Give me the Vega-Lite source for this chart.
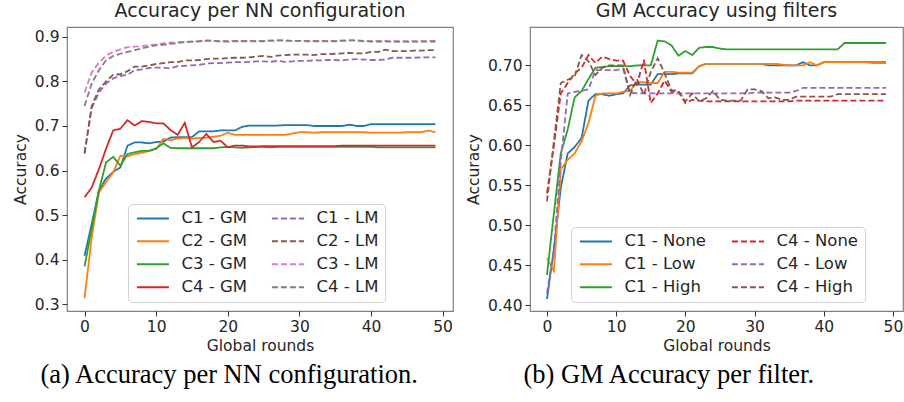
{
"$schema": "https://vega.github.io/schema/vega-lite/v6.json",
"padding": {"left": 12, "top": 1, "right": 0, "bottom": 0},
"background": "white",
"datasets": {
"a": [
{"s":"C1 - GM","r":0,"v":0.409},{"s":"C1 - GM","r":1,"v":0.48},{"s":"C1 - GM","r":2,"v":0.555},{"s":"C1 - GM","r":3,"v":0.582},{"s":"C1 - GM","r":4,"v":0.597},{"s":"C1 - GM","r":5,"v":0.607},{"s":"C1 - GM","r":6,"v":0.656},{"s":"C1 - GM","r":7,"v":0.663},{"s":"C1 - GM","r":8,"v":0.663},{"s":"C1 - GM","r":9,"v":0.661},
{"s":"C1 - GM","r":10,"v":0.664},{"s":"C1 - GM","r":11,"v":0.665},{"s":"C1 - GM","r":12,"v":0.674},{"s":"C1 - GM","r":13,"v":0.675},{"s":"C1 - GM","r":14,"v":0.675},{"s":"C1 - GM","r":15,"v":0.675},{"s":"C1 - GM","r":16,"v":0.688},{"s":"C1 - GM","r":17,"v":0.688},{"s":"C1 - GM","r":18,"v":0.688},{"s":"C1 - GM","r":19,"v":0.69},
{"s":"C1 - GM","r":20,"v":0.69},{"s":"C1 - GM","r":21,"v":0.69},{"s":"C1 - GM","r":22,"v":0.698},{"s":"C1 - GM","r":23,"v":0.701},{"s":"C1 - GM","r":24,"v":0.701},{"s":"C1 - GM","r":25,"v":0.701},{"s":"C1 - GM","r":26,"v":0.701},{"s":"C1 - GM","r":27,"v":0.701},{"s":"C1 - GM","r":28,"v":0.702},{"s":"C1 - GM","r":29,"v":0.702},
{"s":"C1 - GM","r":30,"v":0.702},{"s":"C1 - GM","r":31,"v":0.702},{"s":"C1 - GM","r":32,"v":0.7},{"s":"C1 - GM","r":33,"v":0.7},{"s":"C1 - GM","r":34,"v":0.7},{"s":"C1 - GM","r":35,"v":0.7},{"s":"C1 - GM","r":36,"v":0.7},{"s":"C1 - GM","r":37,"v":0.703},{"s":"C1 - GM","r":38,"v":0.7},{"s":"C1 - GM","r":39,"v":0.7},
{"s":"C1 - GM","r":40,"v":0.704},{"s":"C1 - GM","r":41,"v":0.704},{"s":"C1 - GM","r":42,"v":0.704},{"s":"C1 - GM","r":43,"v":0.704},{"s":"C1 - GM","r":44,"v":0.704},{"s":"C1 - GM","r":45,"v":0.704},{"s":"C1 - GM","r":46,"v":0.704},{"s":"C1 - GM","r":47,"v":0.704},{"s":"C1 - GM","r":48,"v":0.704},{"s":"C1 - GM","r":49,"v":0.704},
{"s":"C2 - GM","r":0,"v":0.314},{"s":"C2 - GM","r":1,"v":0.45},{"s":"C2 - GM","r":2,"v":0.55},{"s":"C2 - GM","r":3,"v":0.575},{"s":"C2 - GM","r":4,"v":0.596},{"s":"C2 - GM","r":5,"v":0.633},{"s":"C2 - GM","r":6,"v":0.632},{"s":"C2 - GM","r":7,"v":0.637},{"s":"C2 - GM","r":8,"v":0.64},{"s":"C2 - GM","r":9,"v":0.644},
{"s":"C2 - GM","r":10,"v":0.648},{"s":"C2 - GM","r":11,"v":0.671},{"s":"C2 - GM","r":12,"v":0.668},{"s":"C2 - GM","r":13,"v":0.672},{"s":"C2 - GM","r":14,"v":0.673},{"s":"C2 - GM","r":15,"v":0.672},{"s":"C2 - GM","r":16,"v":0.673},{"s":"C2 - GM","r":17,"v":0.674},{"s":"C2 - GM","r":18,"v":0.676},{"s":"C2 - GM","r":19,"v":0.678},
{"s":"C2 - GM","r":20,"v":0.685},{"s":"C2 - GM","r":21,"v":0.68},{"s":"C2 - GM","r":22,"v":0.68},{"s":"C2 - GM","r":23,"v":0.68},{"s":"C2 - GM","r":24,"v":0.68},{"s":"C2 - GM","r":25,"v":0.68},{"s":"C2 - GM","r":26,"v":0.68},{"s":"C2 - GM","r":27,"v":0.68},{"s":"C2 - GM","r":28,"v":0.68},{"s":"C2 - GM","r":29,"v":0.683},
{"s":"C2 - GM","r":30,"v":0.686},{"s":"C2 - GM","r":31,"v":0.686},{"s":"C2 - GM","r":32,"v":0.685},{"s":"C2 - GM","r":33,"v":0.686},{"s":"C2 - GM","r":34,"v":0.686},{"s":"C2 - GM","r":35,"v":0.686},{"s":"C2 - GM","r":36,"v":0.686},{"s":"C2 - GM","r":37,"v":0.686},{"s":"C2 - GM","r":38,"v":0.686},{"s":"C2 - GM","r":39,"v":0.686},
{"s":"C2 - GM","r":40,"v":0.685},{"s":"C2 - GM","r":41,"v":0.685},{"s":"C2 - GM","r":42,"v":0.685},{"s":"C2 - GM","r":43,"v":0.685},{"s":"C2 - GM","r":44,"v":0.685},{"s":"C2 - GM","r":45,"v":0.686},{"s":"C2 - GM","r":46,"v":0.686},{"s":"C2 - GM","r":47,"v":0.686},{"s":"C2 - GM","r":48,"v":0.69},{"s":"C2 - GM","r":49,"v":0.686},
{"s":"C3 - GM","r":0,"v":0.385},{"s":"C3 - GM","r":1,"v":0.47},{"s":"C3 - GM","r":2,"v":0.555},{"s":"C3 - GM","r":3,"v":0.618},{"s":"C3 - GM","r":4,"v":0.631},{"s":"C3 - GM","r":5,"v":0.611},{"s":"C3 - GM","r":6,"v":0.637},{"s":"C3 - GM","r":7,"v":0.641},{"s":"C3 - GM","r":8,"v":0.644},{"s":"C3 - GM","r":9,"v":0.644},
{"s":"C3 - GM","r":10,"v":0.65},{"s":"C3 - GM","r":11,"v":0.661},{"s":"C3 - GM","r":12,"v":0.651},{"s":"C3 - GM","r":13,"v":0.65},{"s":"C3 - GM","r":14,"v":0.65},{"s":"C3 - GM","r":15,"v":0.65},{"s":"C3 - GM","r":16,"v":0.65},{"s":"C3 - GM","r":17,"v":0.65},{"s":"C3 - GM","r":18,"v":0.65},{"s":"C3 - GM","r":19,"v":0.652},
{"s":"C3 - GM","r":20,"v":0.653},{"s":"C3 - GM","r":21,"v":0.652},{"s":"C3 - GM","r":22,"v":0.651},{"s":"C3 - GM","r":23,"v":0.652},{"s":"C3 - GM","r":24,"v":0.653},{"s":"C3 - GM","r":25,"v":0.653},{"s":"C3 - GM","r":26,"v":0.652},{"s":"C3 - GM","r":27,"v":0.653},{"s":"C3 - GM","r":28,"v":0.653},{"s":"C3 - GM","r":29,"v":0.653},
{"s":"C3 - GM","r":30,"v":0.653},{"s":"C3 - GM","r":31,"v":0.653},{"s":"C3 - GM","r":32,"v":0.653},{"s":"C3 - GM","r":33,"v":0.653},{"s":"C3 - GM","r":34,"v":0.653},{"s":"C3 - GM","r":35,"v":0.653},{"s":"C3 - GM","r":36,"v":0.653},{"s":"C3 - GM","r":37,"v":0.653},{"s":"C3 - GM","r":38,"v":0.653},{"s":"C3 - GM","r":39,"v":0.653},
{"s":"C3 - GM","r":40,"v":0.653},{"s":"C3 - GM","r":41,"v":0.652},{"s":"C3 - GM","r":42,"v":0.652},{"s":"C3 - GM","r":43,"v":0.652},{"s":"C3 - GM","r":44,"v":0.652},{"s":"C3 - GM","r":45,"v":0.652},{"s":"C3 - GM","r":46,"v":0.652},{"s":"C3 - GM","r":47,"v":0.652},{"s":"C3 - GM","r":48,"v":0.652},{"s":"C3 - GM","r":49,"v":0.652},
{"s":"C4 - GM","r":0,"v":0.54},{"s":"C4 - GM","r":1,"v":0.562},{"s":"C4 - GM","r":2,"v":0.603},{"s":"C4 - GM","r":3,"v":0.649},{"s":"C4 - GM","r":4,"v":0.69},{"s":"C4 - GM","r":5,"v":0.694},{"s":"C4 - GM","r":6,"v":0.713},{"s":"C4 - GM","r":7,"v":0.701},{"s":"C4 - GM","r":8,"v":0.711},{"s":"C4 - GM","r":9,"v":0.709},
{"s":"C4 - GM","r":10,"v":0.706},{"s":"C4 - GM","r":11,"v":0.706},{"s":"C4 - GM","r":12,"v":0.691},{"s":"C4 - GM","r":13,"v":0.68},{"s":"C4 - GM","r":14,"v":0.707},{"s":"C4 - GM","r":15,"v":0.652},{"s":"C4 - GM","r":16,"v":0.664},{"s":"C4 - GM","r":17,"v":0.682},{"s":"C4 - GM","r":18,"v":0.664},{"s":"C4 - GM","r":19,"v":0.667},
{"s":"C4 - GM","r":20,"v":0.652},{"s":"C4 - GM","r":21,"v":0.656},{"s":"C4 - GM","r":22,"v":0.656},{"s":"C4 - GM","r":23,"v":0.654},{"s":"C4 - GM","r":24,"v":0.654},{"s":"C4 - GM","r":25,"v":0.655},{"s":"C4 - GM","r":26,"v":0.655},{"s":"C4 - GM","r":27,"v":0.655},{"s":"C4 - GM","r":28,"v":0.655},{"s":"C4 - GM","r":29,"v":0.655},
{"s":"C4 - GM","r":30,"v":0.655},{"s":"C4 - GM","r":31,"v":0.655},{"s":"C4 - GM","r":32,"v":0.655},{"s":"C4 - GM","r":33,"v":0.655},{"s":"C4 - GM","r":34,"v":0.655},{"s":"C4 - GM","r":35,"v":0.655},{"s":"C4 - GM","r":36,"v":0.656},{"s":"C4 - GM","r":37,"v":0.656},{"s":"C4 - GM","r":38,"v":0.656},{"s":"C4 - GM","r":39,"v":0.656},
{"s":"C4 - GM","r":40,"v":0.656},{"s":"C4 - GM","r":41,"v":0.656},{"s":"C4 - GM","r":42,"v":0.656},{"s":"C4 - GM","r":43,"v":0.656},{"s":"C4 - GM","r":44,"v":0.656},{"s":"C4 - GM","r":45,"v":0.656},{"s":"C4 - GM","r":46,"v":0.656},{"s":"C4 - GM","r":47,"v":0.656},{"s":"C4 - GM","r":48,"v":0.656},{"s":"C4 - GM","r":49,"v":0.656},
{"s":"C1 - LM","r":0,"v":0.64},{"s":"C1 - LM","r":1,"v":0.74},{"s":"C1 - LM","r":2,"v":0.775},{"s":"C1 - LM","r":3,"v":0.795},{"s":"C1 - LM","r":4,"v":0.807},{"s":"C1 - LM","r":5,"v":0.812},{"s":"C1 - LM","r":6,"v":0.815},{"s":"C1 - LM","r":7,"v":0.825},{"s":"C1 - LM","r":8,"v":0.827},{"s":"C1 - LM","r":9,"v":0.83},
{"s":"C1 - LM","r":10,"v":0.831},{"s":"C1 - LM","r":11,"v":0.831},{"s":"C1 - LM","r":12,"v":0.829},{"s":"C1 - LM","r":13,"v":0.834},{"s":"C1 - LM","r":14,"v":0.835},{"s":"C1 - LM","r":15,"v":0.836},{"s":"C1 - LM","r":16,"v":0.837},{"s":"C1 - LM","r":17,"v":0.84},{"s":"C1 - LM","r":18,"v":0.841},{"s":"C1 - LM","r":19,"v":0.841},
{"s":"C1 - LM","r":20,"v":0.842},{"s":"C1 - LM","r":21,"v":0.843},{"s":"C1 - LM","r":22,"v":0.843},{"s":"C1 - LM","r":23,"v":0.844},{"s":"C1 - LM","r":24,"v":0.845},{"s":"C1 - LM","r":25,"v":0.845},{"s":"C1 - LM","r":26,"v":0.844},{"s":"C1 - LM","r":27,"v":0.846},{"s":"C1 - LM","r":28,"v":0.844},{"s":"C1 - LM","r":29,"v":0.845},
{"s":"C1 - LM","r":30,"v":0.846},{"s":"C1 - LM","r":31,"v":0.846},{"s":"C1 - LM","r":32,"v":0.847},{"s":"C1 - LM","r":33,"v":0.847},{"s":"C1 - LM","r":34,"v":0.848},{"s":"C1 - LM","r":35,"v":0.848},{"s":"C1 - LM","r":36,"v":0.847},{"s":"C1 - LM","r":37,"v":0.849},{"s":"C1 - LM","r":38,"v":0.85},{"s":"C1 - LM","r":39,"v":0.849},
{"s":"C1 - LM","r":40,"v":0.848},{"s":"C1 - LM","r":41,"v":0.848},{"s":"C1 - LM","r":42,"v":0.849},{"s":"C1 - LM","r":43,"v":0.853},{"s":"C1 - LM","r":44,"v":0.853},{"s":"C1 - LM","r":45,"v":0.853},{"s":"C1 - LM","r":46,"v":0.853},{"s":"C1 - LM","r":47,"v":0.854},{"s":"C1 - LM","r":48,"v":0.854},{"s":"C1 - LM","r":49,"v":0.854},
{"s":"C2 - LM","r":0,"v":0.638},{"s":"C2 - LM","r":1,"v":0.745},{"s":"C2 - LM","r":2,"v":0.782},{"s":"C2 - LM","r":3,"v":0.8},{"s":"C2 - LM","r":4,"v":0.815},{"s":"C2 - LM","r":5,"v":0.816},{"s":"C2 - LM","r":6,"v":0.823},{"s":"C2 - LM","r":7,"v":0.833},{"s":"C2 - LM","r":8,"v":0.833},{"s":"C2 - LM","r":9,"v":0.836},
{"s":"C2 - LM","r":10,"v":0.839},{"s":"C2 - LM","r":11,"v":0.841},{"s":"C2 - LM","r":12,"v":0.843},{"s":"C2 - LM","r":13,"v":0.843},{"s":"C2 - LM","r":14,"v":0.847},{"s":"C2 - LM","r":15,"v":0.847},{"s":"C2 - LM","r":16,"v":0.848},{"s":"C2 - LM","r":17,"v":0.85},{"s":"C2 - LM","r":18,"v":0.851},{"s":"C2 - LM","r":19,"v":0.851},
{"s":"C2 - LM","r":20,"v":0.852},{"s":"C2 - LM","r":21,"v":0.853},{"s":"C2 - LM","r":22,"v":0.853},{"s":"C2 - LM","r":23,"v":0.854},{"s":"C2 - LM","r":24,"v":0.856},{"s":"C2 - LM","r":25,"v":0.857},{"s":"C2 - LM","r":26,"v":0.855},{"s":"C2 - LM","r":27,"v":0.858},{"s":"C2 - LM","r":28,"v":0.859},{"s":"C2 - LM","r":29,"v":0.86},
{"s":"C2 - LM","r":30,"v":0.86},{"s":"C2 - LM","r":31,"v":0.86},{"s":"C2 - LM","r":32,"v":0.859},{"s":"C2 - LM","r":33,"v":0.861},{"s":"C2 - LM","r":34,"v":0.861},{"s":"C2 - LM","r":35,"v":0.862},{"s":"C2 - LM","r":36,"v":0.863},{"s":"C2 - LM","r":37,"v":0.864},{"s":"C2 - LM","r":38,"v":0.863},{"s":"C2 - LM","r":39,"v":0.863},
{"s":"C2 - LM","r":40,"v":0.866},{"s":"C2 - LM","r":41,"v":0.866},{"s":"C2 - LM","r":42,"v":0.871},{"s":"C2 - LM","r":43,"v":0.868},{"s":"C2 - LM","r":44,"v":0.868},{"s":"C2 - LM","r":45,"v":0.868},{"s":"C2 - LM","r":46,"v":0.869},{"s":"C2 - LM","r":47,"v":0.869},{"s":"C2 - LM","r":48,"v":0.87},{"s":"C2 - LM","r":49,"v":0.87},
{"s":"C3 - LM","r":0,"v":0.775},{"s":"C3 - LM","r":1,"v":0.82},{"s":"C3 - LM","r":2,"v":0.842},{"s":"C3 - LM","r":3,"v":0.858},{"s":"C3 - LM","r":4,"v":0.866},{"s":"C3 - LM","r":5,"v":0.872},{"s":"C3 - LM","r":6,"v":0.877},{"s":"C3 - LM","r":7,"v":0.878},{"s":"C3 - LM","r":8,"v":0.879},{"s":"C3 - LM","r":9,"v":0.881},
{"s":"C3 - LM","r":10,"v":0.883},{"s":"C3 - LM","r":11,"v":0.885},{"s":"C3 - LM","r":12,"v":0.887},{"s":"C3 - LM","r":13,"v":0.888},{"s":"C3 - LM","r":14,"v":0.889},{"s":"C3 - LM","r":15,"v":0.889},{"s":"C3 - LM","r":16,"v":0.89},{"s":"C3 - LM","r":17,"v":0.891},{"s":"C3 - LM","r":18,"v":0.891},{"s":"C3 - LM","r":19,"v":0.891},
{"s":"C3 - LM","r":20,"v":0.891},{"s":"C3 - LM","r":21,"v":0.891},{"s":"C3 - LM","r":22,"v":0.891},{"s":"C3 - LM","r":23,"v":0.891},{"s":"C3 - LM","r":24,"v":0.891},{"s":"C3 - LM","r":25,"v":0.891},{"s":"C3 - LM","r":26,"v":0.892},{"s":"C3 - LM","r":27,"v":0.892},{"s":"C3 - LM","r":28,"v":0.891},{"s":"C3 - LM","r":29,"v":0.891},
{"s":"C3 - LM","r":30,"v":0.891},{"s":"C3 - LM","r":31,"v":0.891},{"s":"C3 - LM","r":32,"v":0.891},{"s":"C3 - LM","r":33,"v":0.891},{"s":"C3 - LM","r":34,"v":0.891},{"s":"C3 - LM","r":35,"v":0.891},{"s":"C3 - LM","r":36,"v":0.892},{"s":"C3 - LM","r":37,"v":0.892},{"s":"C3 - LM","r":38,"v":0.892},{"s":"C3 - LM","r":39,"v":0.891},
{"s":"C3 - LM","r":40,"v":0.891},{"s":"C3 - LM","r":41,"v":0.891},{"s":"C3 - LM","r":42,"v":0.891},{"s":"C3 - LM","r":43,"v":0.89},{"s":"C3 - LM","r":44,"v":0.89},{"s":"C3 - LM","r":45,"v":0.89},{"s":"C3 - LM","r":46,"v":0.89},{"s":"C3 - LM","r":47,"v":0.89},{"s":"C3 - LM","r":48,"v":0.891},{"s":"C3 - LM","r":49,"v":0.891},
{"s":"C4 - LM","r":0,"v":0.745},{"s":"C4 - LM","r":1,"v":0.795},{"s":"C4 - LM","r":2,"v":0.825},{"s":"C4 - LM","r":3,"v":0.847},{"s":"C4 - LM","r":4,"v":0.857},{"s":"C4 - LM","r":5,"v":0.862},{"s":"C4 - LM","r":6,"v":0.866},{"s":"C4 - LM","r":7,"v":0.87},{"s":"C4 - LM","r":8,"v":0.874},{"s":"C4 - LM","r":9,"v":0.878},
{"s":"C4 - LM","r":10,"v":0.881},{"s":"C4 - LM","r":11,"v":0.882},{"s":"C4 - LM","r":12,"v":0.884},{"s":"C4 - LM","r":13,"v":0.886},{"s":"C4 - LM","r":14,"v":0.888},{"s":"C4 - LM","r":15,"v":0.889},{"s":"C4 - LM","r":16,"v":0.89},{"s":"C4 - LM","r":17,"v":0.892},{"s":"C4 - LM","r":18,"v":0.891},{"s":"C4 - LM","r":19,"v":0.889},
{"s":"C4 - LM","r":20,"v":0.889},{"s":"C4 - LM","r":21,"v":0.89},{"s":"C4 - LM","r":22,"v":0.89},{"s":"C4 - LM","r":23,"v":0.89},{"s":"C4 - LM","r":24,"v":0.89},{"s":"C4 - LM","r":25,"v":0.89},{"s":"C4 - LM","r":26,"v":0.891},{"s":"C4 - LM","r":27,"v":0.892},{"s":"C4 - LM","r":28,"v":0.892},{"s":"C4 - LM","r":29,"v":0.891},
{"s":"C4 - LM","r":30,"v":0.891},{"s":"C4 - LM","r":31,"v":0.89},{"s":"C4 - LM","r":32,"v":0.89},{"s":"C4 - LM","r":33,"v":0.89},{"s":"C4 - LM","r":34,"v":0.89},{"s":"C4 - LM","r":35,"v":0.89},{"s":"C4 - LM","r":36,"v":0.891},{"s":"C4 - LM","r":37,"v":0.892},{"s":"C4 - LM","r":38,"v":0.892},{"s":"C4 - LM","r":39,"v":0.89},
{"s":"C4 - LM","r":40,"v":0.889},{"s":"C4 - LM","r":41,"v":0.889},{"s":"C4 - LM","r":42,"v":0.889},{"s":"C4 - LM","r":43,"v":0.889},{"s":"C4 - LM","r":44,"v":0.889},{"s":"C4 - LM","r":45,"v":0.889},{"s":"C4 - LM","r":46,"v":0.889},{"s":"C4 - LM","r":47,"v":0.889},{"s":"C4 - LM","r":48,"v":0.889},{"s":"C4 - LM","r":49,"v":0.889}
],
"b": [
{"s":"C1 - None","r":0,"v":0.408},{"s":"C1 - None","r":1,"v":0.47},{"s":"C1 - None","r":2,"v":0.547},{"s":"C1 - None","r":3,"v":0.59},{"s":"C1 - None","r":4,"v":0.598},{"s":"C1 - None","r":5,"v":0.609},{"s":"C1 - None","r":6,"v":0.656},{"s":"C1 - None","r":7,"v":0.664},{"s":"C1 - None","r":8,"v":0.664},{"s":"C1 - None","r":9,"v":0.662},
{"s":"C1 - None","r":10,"v":0.664},{"s":"C1 - None","r":11,"v":0.665},{"s":"C1 - None","r":12,"v":0.675},{"s":"C1 - None","r":13,"v":0.676},{"s":"C1 - None","r":14,"v":0.676},{"s":"C1 - None","r":15,"v":0.676},{"s":"C1 - None","r":16,"v":0.689},{"s":"C1 - None","r":17,"v":0.689},{"s":"C1 - None","r":18,"v":0.689},{"s":"C1 - None","r":19,"v":0.69},
{"s":"C1 - None","r":20,"v":0.69},{"s":"C1 - None","r":21,"v":0.69},{"s":"C1 - None","r":22,"v":0.699},{"s":"C1 - None","r":23,"v":0.702},{"s":"C1 - None","r":24,"v":0.702},{"s":"C1 - None","r":25,"v":0.702},{"s":"C1 - None","r":26,"v":0.702},{"s":"C1 - None","r":27,"v":0.702},{"s":"C1 - None","r":28,"v":0.702},{"s":"C1 - None","r":29,"v":0.702},
{"s":"C1 - None","r":30,"v":0.702},{"s":"C1 - None","r":31,"v":0.702},{"s":"C1 - None","r":32,"v":0.7},{"s":"C1 - None","r":33,"v":0.7},{"s":"C1 - None","r":34,"v":0.7},{"s":"C1 - None","r":35,"v":0.7},{"s":"C1 - None","r":36,"v":0.7},{"s":"C1 - None","r":37,"v":0.704},{"s":"C1 - None","r":38,"v":0.7},{"s":"C1 - None","r":39,"v":0.7},
{"s":"C1 - None","r":40,"v":0.704},{"s":"C1 - None","r":41,"v":0.704},{"s":"C1 - None","r":42,"v":0.704},{"s":"C1 - None","r":43,"v":0.704},{"s":"C1 - None","r":44,"v":0.704},{"s":"C1 - None","r":45,"v":0.704},{"s":"C1 - None","r":46,"v":0.704},{"s":"C1 - None","r":47,"v":0.704},{"s":"C1 - None","r":48,"v":0.704},{"s":"C1 - None","r":49,"v":0.704},
{"s":"C1 - Low","r":0,"v":0.459},{"s":"C1 - Low","r":1,"v":0.443},{"s":"C1 - Low","r":2,"v":0.57},{"s":"C1 - Low","r":3,"v":0.582},{"s":"C1 - Low","r":4,"v":0.59},{"s":"C1 - Low","r":5,"v":0.605},{"s":"C1 - Low","r":6,"v":0.628},{"s":"C1 - Low","r":7,"v":0.662},{"s":"C1 - Low","r":8,"v":0.665},{"s":"C1 - Low","r":9,"v":0.665},
{"s":"C1 - Low","r":10,"v":0.665},{"s":"C1 - Low","r":11,"v":0.667},{"s":"C1 - Low","r":12,"v":0.668},{"s":"C1 - Low","r":13,"v":0.679},{"s":"C1 - Low","r":14,"v":0.679},{"s":"C1 - Low","r":15,"v":0.678},{"s":"C1 - Low","r":16,"v":0.678},{"s":"C1 - Low","r":17,"v":0.692},{"s":"C1 - Low","r":18,"v":0.692},{"s":"C1 - Low","r":19,"v":0.691},
{"s":"C1 - Low","r":20,"v":0.691},{"s":"C1 - Low","r":21,"v":0.691},{"s":"C1 - Low","r":22,"v":0.699},{"s":"C1 - Low","r":23,"v":0.702},{"s":"C1 - Low","r":24,"v":0.702},{"s":"C1 - Low","r":25,"v":0.702},{"s":"C1 - Low","r":26,"v":0.702},{"s":"C1 - Low","r":27,"v":0.702},{"s":"C1 - Low","r":28,"v":0.702},{"s":"C1 - Low","r":29,"v":0.702},
{"s":"C1 - Low","r":30,"v":0.702},{"s":"C1 - Low","r":31,"v":0.702},{"s":"C1 - Low","r":32,"v":0.702},{"s":"C1 - Low","r":33,"v":0.702},{"s":"C1 - Low","r":34,"v":0.701},{"s":"C1 - Low","r":35,"v":0.7},{"s":"C1 - Low","r":36,"v":0.7},{"s":"C1 - Low","r":37,"v":0.7},{"s":"C1 - Low","r":38,"v":0.704},{"s":"C1 - Low","r":39,"v":0.7},
{"s":"C1 - Low","r":40,"v":0.704},{"s":"C1 - Low","r":41,"v":0.704},{"s":"C1 - Low","r":42,"v":0.704},{"s":"C1 - Low","r":43,"v":0.704},{"s":"C1 - Low","r":44,"v":0.704},{"s":"C1 - Low","r":45,"v":0.704},{"s":"C1 - Low","r":46,"v":0.704},{"s":"C1 - Low","r":47,"v":0.703},{"s":"C1 - Low","r":48,"v":0.703},{"s":"C1 - Low","r":49,"v":0.703},
{"s":"C1 - High","r":0,"v":0.438},{"s":"C1 - High","r":1,"v":0.515},{"s":"C1 - High","r":2,"v":0.59},{"s":"C1 - High","r":3,"v":0.62},{"s":"C1 - High","r":4,"v":0.66},{"s":"C1 - High","r":5,"v":0.668},{"s":"C1 - High","r":6,"v":0.683},{"s":"C1 - High","r":7,"v":0.697},{"s":"C1 - High","r":8,"v":0.698},{"s":"C1 - High","r":9,"v":0.699},
{"s":"C1 - High","r":10,"v":0.699},{"s":"C1 - High","r":11,"v":0.699},{"s":"C1 - High","r":12,"v":0.699},{"s":"C1 - High","r":13,"v":0.7},{"s":"C1 - High","r":14,"v":0.7},{"s":"C1 - High","r":15,"v":0.7},{"s":"C1 - High","r":16,"v":0.731},{"s":"C1 - High","r":17,"v":0.73},{"s":"C1 - High","r":18,"v":0.725},{"s":"C1 - High","r":19,"v":0.712},
{"s":"C1 - High","r":20,"v":0.718},{"s":"C1 - High","r":21,"v":0.713},{"s":"C1 - High","r":22,"v":0.722},{"s":"C1 - High","r":23,"v":0.723},{"s":"C1 - High","r":24,"v":0.723},{"s":"C1 - High","r":25,"v":0.721},{"s":"C1 - High","r":26,"v":0.72},{"s":"C1 - High","r":27,"v":0.72},{"s":"C1 - High","r":28,"v":0.72},{"s":"C1 - High","r":29,"v":0.72},
{"s":"C1 - High","r":30,"v":0.72},{"s":"C1 - High","r":31,"v":0.72},{"s":"C1 - High","r":32,"v":0.72},{"s":"C1 - High","r":33,"v":0.72},{"s":"C1 - High","r":34,"v":0.72},{"s":"C1 - High","r":35,"v":0.72},{"s":"C1 - High","r":36,"v":0.72},{"s":"C1 - High","r":37,"v":0.72},{"s":"C1 - High","r":38,"v":0.72},{"s":"C1 - High","r":39,"v":0.72},
{"s":"C1 - High","r":40,"v":0.72},{"s":"C1 - High","r":41,"v":0.72},{"s":"C1 - High","r":42,"v":0.72},{"s":"C1 - High","r":43,"v":0.728},{"s":"C1 - High","r":44,"v":0.728},{"s":"C1 - High","r":45,"v":0.728},{"s":"C1 - High","r":46,"v":0.728},{"s":"C1 - High","r":47,"v":0.728},{"s":"C1 - High","r":48,"v":0.728},{"s":"C1 - High","r":49,"v":0.728},
{"s":"C4 - None","r":0,"v":0.54},{"s":"C4 - None","r":1,"v":0.6},{"s":"C4 - None","r":2,"v":0.665},{"s":"C4 - None","r":3,"v":0.678},{"s":"C4 - None","r":4,"v":0.69},{"s":"C4 - None","r":5,"v":0.697},{"s":"C4 - None","r":6,"v":0.713},{"s":"C4 - None","r":7,"v":0.703},{"s":"C4 - None","r":8,"v":0.711},{"s":"C4 - None","r":9,"v":0.708},
{"s":"C4 - None","r":10,"v":0.706},{"s":"C4 - None","r":11,"v":0.706},{"s":"C4 - None","r":12,"v":0.687},{"s":"C4 - None","r":13,"v":0.676},{"s":"C4 - None","r":14,"v":0.707},{"s":"C4 - None","r":15,"v":0.653},{"s":"C4 - None","r":16,"v":0.665},{"s":"C4 - None","r":17,"v":0.681},{"s":"C4 - None","r":18,"v":0.667},{"s":"C4 - None","r":19,"v":0.667},
{"s":"C4 - None","r":20,"v":0.653},{"s":"C4 - None","r":21,"v":0.657},{"s":"C4 - None","r":22,"v":0.656},{"s":"C4 - None","r":23,"v":0.655},{"s":"C4 - None","r":24,"v":0.655},{"s":"C4 - None","r":25,"v":0.655},{"s":"C4 - None","r":26,"v":0.655},{"s":"C4 - None","r":27,"v":0.655},{"s":"C4 - None","r":28,"v":0.655},{"s":"C4 - None","r":29,"v":0.655},
{"s":"C4 - None","r":30,"v":0.655},{"s":"C4 - None","r":31,"v":0.655},{"s":"C4 - None","r":32,"v":0.655},{"s":"C4 - None","r":33,"v":0.655},{"s":"C4 - None","r":34,"v":0.655},{"s":"C4 - None","r":35,"v":0.655},{"s":"C4 - None","r":36,"v":0.656},{"s":"C4 - None","r":37,"v":0.656},{"s":"C4 - None","r":38,"v":0.656},{"s":"C4 - None","r":39,"v":0.656},
{"s":"C4 - None","r":40,"v":0.656},{"s":"C4 - None","r":41,"v":0.656},{"s":"C4 - None","r":42,"v":0.656},{"s":"C4 - None","r":43,"v":0.656},{"s":"C4 - None","r":44,"v":0.656},{"s":"C4 - None","r":45,"v":0.656},{"s":"C4 - None","r":46,"v":0.656},{"s":"C4 - None","r":47,"v":0.656},{"s":"C4 - None","r":48,"v":0.656},{"s":"C4 - None","r":49,"v":0.656},
{"s":"C4 - Low","r":0,"v":0.415},{"s":"C4 - Low","r":1,"v":0.47},{"s":"C4 - Low","r":2,"v":0.58},{"s":"C4 - Low","r":3,"v":0.665},{"s":"C4 - Low","r":4,"v":0.667},{"s":"C4 - Low","r":5,"v":0.668},{"s":"C4 - Low","r":6,"v":0.67},{"s":"C4 - Low","r":7,"v":0.694},{"s":"C4 - Low","r":8,"v":0.694},{"s":"C4 - Low","r":9,"v":0.694},
{"s":"C4 - Low","r":10,"v":0.694},{"s":"C4 - Low","r":11,"v":0.696},{"s":"C4 - Low","r":12,"v":0.666},{"s":"C4 - Low","r":13,"v":0.665},{"s":"C4 - Low","r":14,"v":0.665},{"s":"C4 - Low","r":15,"v":0.665},{"s":"C4 - Low","r":16,"v":0.665},{"s":"C4 - Low","r":17,"v":0.665},{"s":"C4 - Low","r":18,"v":0.665},{"s":"C4 - Low","r":19,"v":0.665},
{"s":"C4 - Low","r":20,"v":0.665},{"s":"C4 - Low","r":21,"v":0.665},{"s":"C4 - Low","r":22,"v":0.665},{"s":"C4 - Low","r":23,"v":0.665},{"s":"C4 - Low","r":24,"v":0.665},{"s":"C4 - Low","r":25,"v":0.665},{"s":"C4 - Low","r":26,"v":0.665},{"s":"C4 - Low","r":27,"v":0.665},{"s":"C4 - Low","r":28,"v":0.665},{"s":"C4 - Low","r":29,"v":0.665},
{"s":"C4 - Low","r":30,"v":0.666},{"s":"C4 - Low","r":31,"v":0.666},{"s":"C4 - Low","r":32,"v":0.666},{"s":"C4 - Low","r":33,"v":0.666},{"s":"C4 - Low","r":34,"v":0.666},{"s":"C4 - Low","r":35,"v":0.666},{"s":"C4 - Low","r":36,"v":0.668},{"s":"C4 - Low","r":37,"v":0.672},{"s":"C4 - Low","r":38,"v":0.672},{"s":"C4 - Low","r":39,"v":0.672},
{"s":"C4 - Low","r":40,"v":0.672},{"s":"C4 - Low","r":41,"v":0.672},{"s":"C4 - Low","r":42,"v":0.672},{"s":"C4 - Low","r":43,"v":0.672},{"s":"C4 - Low","r":44,"v":0.672},{"s":"C4 - Low","r":45,"v":0.672},{"s":"C4 - Low","r":46,"v":0.672},{"s":"C4 - Low","r":47,"v":0.672},{"s":"C4 - Low","r":48,"v":0.672},{"s":"C4 - Low","r":49,"v":0.672},
{"s":"C4 - High","r":0,"v":0.53},{"s":"C4 - High","r":1,"v":0.605},{"s":"C4 - High","r":2,"v":0.678},{"s":"C4 - High","r":3,"v":0.682},{"s":"C4 - High","r":4,"v":0.686},{"s":"C4 - High","r":5,"v":0.713},{"s":"C4 - High","r":6,"v":0.705},{"s":"C4 - High","r":7,"v":0.688},{"s":"C4 - High","r":8,"v":0.697},{"s":"C4 - High","r":9,"v":0.7},
{"s":"C4 - High","r":10,"v":0.7},{"s":"C4 - High","r":11,"v":0.7},{"s":"C4 - High","r":12,"v":0.663},{"s":"C4 - High","r":13,"v":0.683},{"s":"C4 - High","r":14,"v":0.663},{"s":"C4 - High","r":15,"v":0.692},{"s":"C4 - High","r":16,"v":0.709},{"s":"C4 - High","r":17,"v":0.69},{"s":"C4 - High","r":18,"v":0.669},{"s":"C4 - High","r":19,"v":0.668},
{"s":"C4 - High","r":20,"v":0.655},{"s":"C4 - High","r":21,"v":0.665},{"s":"C4 - High","r":22,"v":0.655},{"s":"C4 - High","r":23,"v":0.659},{"s":"C4 - High","r":24,"v":0.668},{"s":"C4 - High","r":25,"v":0.657},{"s":"C4 - High","r":26,"v":0.656},{"s":"C4 - High","r":27,"v":0.656},{"s":"C4 - High","r":28,"v":0.656},{"s":"C4 - High","r":29,"v":0.67},
{"s":"C4 - High","r":30,"v":0.67},{"s":"C4 - High","r":31,"v":0.668},{"s":"C4 - High","r":32,"v":0.659},{"s":"C4 - High","r":33,"v":0.66},{"s":"C4 - High","r":34,"v":0.657},{"s":"C4 - High","r":35,"v":0.657},{"s":"C4 - High","r":36,"v":0.661},{"s":"C4 - High","r":37,"v":0.661},{"s":"C4 - High","r":38,"v":0.661},{"s":"C4 - High","r":39,"v":0.661},
{"s":"C4 - High","r":40,"v":0.661},{"s":"C4 - High","r":41,"v":0.661},{"s":"C4 - High","r":42,"v":0.664},{"s":"C4 - High","r":43,"v":0.664},{"s":"C4 - High","r":44,"v":0.664},{"s":"C4 - High","r":45,"v":0.664},{"s":"C4 - High","r":46,"v":0.664},{"s":"C4 - High","r":47,"v":0.664},{"s":"C4 - High","r":48,"v":0.664},{"s":"C4 - High","r":49,"v":0.664}
]
},
"hconcat": [
{
"title": {"text": "(a) Accuracy per NN configuration.", "orient": "bottom", "anchor": "middle", "font": "Liberation Serif", "fontSize": 26.5, "fontWeight": "normal", "color": "#000000", "offset": 7, "dx": -4},
"vconcat": [
{
"width": 386, "height": 284,
"title": {"text": "Accuracy per NN configuration", "fontSize": 19, "offset": 6},
"data": {"name": "a"},
"mark": {"type": "line", "strokeWidth": 1.8},
"encoding": {
"x": {"field": "r", "type": "quantitative", "scale": {"domain": [-2.45, 51.45], "nice": false, "zero": false}, "axis": {"values": [0, 10, 20, 30, 40, 50], "title": "Global rounds"}},
"y": {"field": "v", "type": "quantitative", "scale": {"domain": [0.285, 0.922], "nice": false, "zero": false}, "axis": {"values": [0.3, 0.4, 0.5, 0.6, 0.7, 0.8, 0.9], "format": ".1f", "title": "Accuracy"}},
"color": {"field": "s", "type": "nominal", "scale": {"domain": ["C1 - GM", "C2 - GM", "C3 - GM", "C4 - GM", "C1 - LM", "C2 - LM", "C3 - LM", "C4 - LM"], "range": ["#1f77b4", "#ff7f0e", "#2ca02c", "#d62728", "#9467bd", "#8c564b", "#e377c2", "#7f7f7f"]}, "legend": {"legendX": 61, "legendY": 177}},
"strokeDash": {"field": "s", "type": "nominal", "scale": {"domain": ["C1 - GM", "C2 - GM", "C3 - GM", "C4 - GM", "C1 - LM", "C2 - LM", "C3 - LM", "C4 - LM"], "range": [[1, 0], [1, 0], [1, 0], [1, 0], [6, 3], [6, 3], [6, 3], [6, 3]]}, "legend": {"legendX": 61, "legendY": 177}}
}
}
]
},
{
"title": {"text": "(b) GM Accuracy per filter.", "orient": "bottom", "anchor": "middle", "font": "Liberation Serif", "fontSize": 26.5, "fontWeight": "normal", "color": "#000000", "offset": 7, "dx": -16},
"vconcat": [
{
"width": 373, "height": 284,
"title": {"text": "GM Accuracy using filters", "fontSize": 19, "offset": 6},
"data": {"name": "b"},
"mark": {"type": "line", "strokeWidth": 1.8},
"encoding": {
"x": {"field": "r", "type": "quantitative", "scale": {"domain": [-2.45, 51.45], "nice": false, "zero": false}, "axis": {"values": [0, 10, 20, 30, 40, 50], "title": "Global rounds"}},
"y": {"field": "v", "type": "quantitative", "scale": {"domain": [0.393, 0.748], "nice": false, "zero": false}, "axis": {"values": [0.4, 0.45, 0.5, 0.55, 0.6, 0.65, 0.7], "format": ".2f", "title": "Accuracy"}},
"color": {"field": "s", "type": "nominal", "scale": {"domain": ["C1 - None", "C1 - Low", "C1 - High", "C4 - None", "C4 - Low", "C4 - High"], "range": ["#1f77b4", "#ff7f0e", "#2ca02c", "#d62728", "#9467bd", "#8c564b"]}, "legend": {"legendX": 41, "legendY": 200}},
"strokeDash": {"field": "s", "type": "nominal", "scale": {"domain": ["C1 - None", "C1 - Low", "C1 - High", "C4 - None", "C4 - Low", "C4 - High"], "range": [[1, 0], [1, 0], [1, 0], [6, 3], [6, 3], [6, 3]]}, "legend": {"legendX": 41, "legendY": 200}}
}
}
]
}
],
"spacing": 11,
"resolve": {"scale": {"color": "independent", "strokeDash": "independent"}, "legend": {"color": "independent", "strokeDash": "independent"}},
"config": {
"font": "DejaVu Sans",
"view": {"stroke": "#808080", "strokeWidth": 1.2},
"title": {"fontSize": 19, "fontWeight": "normal", "color": "#262626", "font": "DejaVu Sans"},
"axis": {"domain": false, "grid": false, "tickColor": "#333333", "tickSize": 5, "tickWidth": 1, "labelFontSize": 15.5, "titleFontSize": 15.5, "labelColor": "#262626", "titleColor": "#262626", "titleFontWeight": "normal", "labelPadding": 3},
"axisX": {"titlePadding": 4},
"axisY": {"titlePadding": 6},
"legend": {"orient": "none", "columns": 2, "title": null, "symbolType": "M-1,0H5", "symbolSize": 114, "symbolStrokeWidth": 2, "symbolFillColor": "transparent", "labelFontSize": 16.5, "labelColor": "#262626", "fillColor": "white", "strokeColor": "#d0d0d0", "cornerRadius": 4, "padding": 6, "columnPadding": 20, "rowPadding": 6, "labelOffset": 31}
}
}
